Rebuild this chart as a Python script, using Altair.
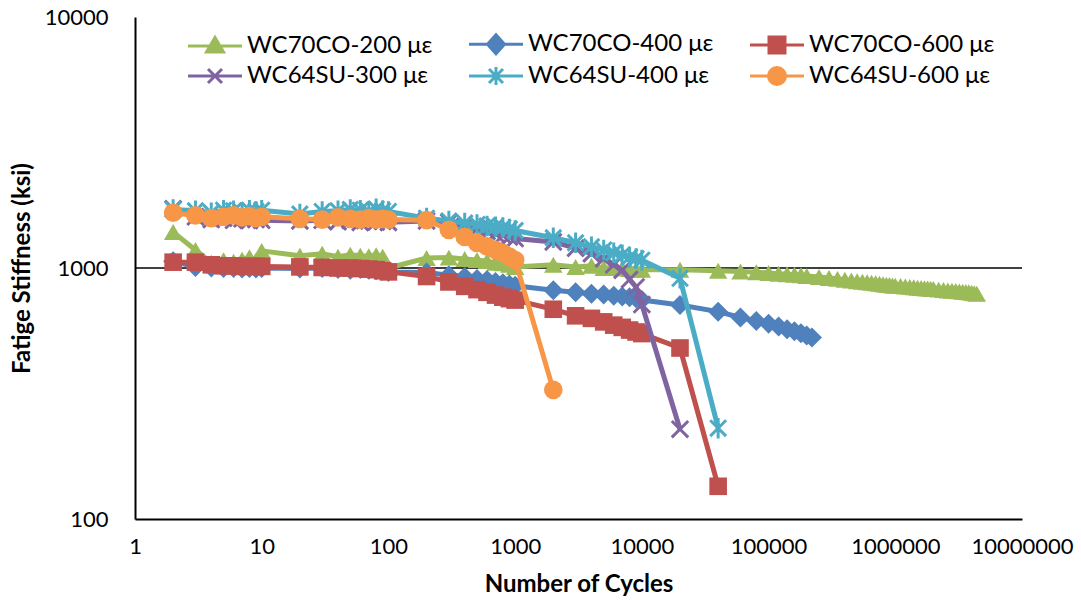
import altair as alt
import pandas as pd

# ---------------- data ----------------
NAMES = ["WC70CO-200 με", "WC70CO-400 με", "WC70CO-600 με",
         "WC64SU-300 με", "WC64SU-400 με", "WC64SU-600 με"]
COLORS = ["#9BBB59", "#4F81BD", "#C0504D", "#8064A2", "#4BACC6", "#F79646"]

X_EARLY = [2, 3, 4, 5, 6, 7, 8, 9, 10, 20, 30, 40, 50, 60, 70, 80, 90, 100,
           200, 300, 400, 500, 600, 700, 800, 900, 1000]
X_MID = [2000, 3000, 4000, 5000, 6000, 7000, 8000, 9000, 10000]

green_x = X_EARLY + X_MID + [
    20000, 40000, 60000, 80000, 100000, 120000, 140000, 160000, 180000, 200000,
    250000, 300000, 350000, 400000, 450000, 500000, 550000, 600000, 650000, 700000,
    750000, 800000, 850000, 900000, 950000, 1000000, 1100000, 1200000, 1300000,
    1400000, 1500000, 1600000, 1700000, 1800000, 1900000, 2000000, 2200000,
    2400000, 2600000, 2800000, 3000000, 3200000, 3400000, 3600000, 3800000,
    4000000, 4200000, 4400000]
green_y = [1390, 1180, 1050, 1075, 1060, 1080, 1105, 1070, 1170,
           1120, 1140, 1110, 1130, 1120, 1115, 1125, 1110, 1000,
           1095, 1100, 1085, 1075, 1065, 1050, 1045, 1030, 1010,
           1030, 1010, 1020, 1000, 1000, 995, 990, 985, 985,
           985, 975, 968, 962, 955, 948, 944, 940, 935, 930,
           920, 912, 905, 898, 892, 886, 882, 878, 874, 870,
           866, 862, 858, 855, 852, 850, 847, 844, 841,
           838, 835, 832, 830, 828, 826, 824, 820,
           817, 814, 812, 810, 807, 805, 802, 800,
           797, 794, 790]

blue_x = X_EARLY + X_MID + [20000, 40000, 60000, 80000, 100000, 120000,
                            140000, 160000, 180000, 200000, 220000]
blue_y = [1065, 1010, 1005, 1000, 1000, 995, 1000, 995, 1000,
          995, 1000, 990, 985, 990, 985, 980, 975, 965,
          960, 935, 920, 905, 895, 880, 870, 860, 850,
          815, 800, 790, 785, 775, 770, 765, 758, 745,
          712, 670, 635, 615, 600, 585, 570, 560, 550, 538, 528]

red_x = X_EARLY + X_MID + [20000, 40000]
red_y = [1055, 1055, 1030, 1020, 1020, 1015, 1015, 1015, 1015,
         1010, 1005, 1000, 1000, 995, 990, 985, 975, 965,
         925, 880, 845, 820, 800, 780, 765, 755, 745,
         685, 645, 630, 610, 592, 580, 566, 556, 548,
         480, 135]

purple_x = X_EARLY + X_MID + [20000]
purple_y = [1720, 1600, 1560, 1580, 1550, 1570, 1545, 1560, 1550,
            1540, 1550, 1530, 1545, 1520, 1540, 1525, 1535, 1520,
            1540, 1520, 1460, 1430, 1400, 1370, 1350, 1330, 1310,
            1270, 1200, 1140, 1090, 1030, 980, 900, 840, 715,
            228]

cyan_x = X_EARLY + X_MID + [20000, 40000]
cyan_y = [1710, 1690, 1660, 1700, 1690, 1660, 1700, 1680, 1700,
          1640, 1680, 1690, 1710, 1700, 1680, 1720, 1690, 1680,
          1580, 1540, 1510, 1490, 1470, 1460, 1450, 1430, 1410,
          1320, 1260, 1215, 1180, 1150, 1128, 1105, 1090, 1075,
          910, 230]

orange_x = X_EARLY + [2000]
orange_y = [1660, 1620, 1580, 1600, 1620, 1590, 1610, 1580, 1600,
            1570, 1560, 1590, 1570, 1560, 1580, 1560, 1570, 1560,
            1550, 1420, 1330, 1260, 1220, 1180, 1150, 1110, 1075,
            327]

SERIES_X = [green_x, blue_x, red_x, purple_x, cyan_x, orange_x]
SERIES_Y = [green_y, blue_y, red_y, purple_y, cyan_y, orange_y]

X_TICKS = [1, 10, 100, 1000, 10000, 100000, 1000000, 10000000]
Y_TICKS = [100, 1000, 10000]

# ---------------- styling ----------------
FONT = "Lato"
X_PATH = "M-1,-1L1,1M-1,1L1,-1"
AST_PATH = "M-1,-1L1,1M-1,1L1,-1M0,-1.3L0,1.3"
MARKERS = [  # shape, filled, size, strokeWidth
    ("triangle-up", True, 340, 0),
    ("diamond", True, 400, 0),
    ("square", True, 310, 0),
    (X_PATH, False, 270, 3),
    (AST_PATH, False, 250, 3),
    ("circle", True, 350, 0),
]
LINE = "M-2.7,0L2.7,0"
LEG_PATHS = [
    LINE + "M0,-0.85L0.85,0.6L-0.85,0.6Z",
    LINE + "M0,-0.95L0.85,0L0,0.95L-0.85,0Z",
    LINE + "M-0.8,-0.8L0.8,-0.8L0.8,0.8L-0.8,0.8Z",
    LINE + "M-0.7,-0.7L0.7,0.7M-0.7,0.7L0.7,-0.7",
    LINE + "M-0.7,-0.7L0.7,0.7M-0.7,0.7L0.7,-0.7M0,-0.9L0,0.9",
    LINE + "M-0.85,0A0.85,0.85,0,1,0,0.85,0A0.85,0.85,0,1,0,-0.85,0Z",
]

W, H = 887, 502

xscale = alt.Scale(type="log", domain=[1, 10000000], nice=False)
yscale = alt.Scale(type="log", domain=[100, 10000], nice=False)

xaxis = alt.Axis(values=X_TICKS, format="d", title="Number of Cycles",
                 grid=False, ticks=False, domainColor="black", domainWidth=2,
                 labelFont=FONT, labelFontSize=22, labelColor="black",
                 labelPadding=17, labelFlush=False, labelOverlap=False,
                 titleFont=FONT, titleFontSize=24, titleFontWeight="bold",
                 titleColor="black", titleX=W / 2, titleY=65,
                 titleBaseline="middle", titleAlign="center")
yaxis = alt.Axis(values=Y_TICKS, format="d", title="Fatige Stiffness (ksi)",
                 grid=False, ticks=False, domainColor="black", domainWidth=2,
                 labelFont=FONT, labelFontSize=22, labelColor="black",
                 labelPadding=27, labelOverlap=False,
                 titleFont=FONT, titleFontSize=24, titleFontWeight="bold",
                 titleColor="black", titleX=-113, titleY=H / 2,
                 titleAngle=270, titleBaseline="middle", titleAlign="center")

layers = []

grid = alt.Chart(pd.DataFrame({"v": [1000]})).mark_rule(
    color="black", strokeWidth=1.6).encode(
    y=alt.Y("v:Q", scale=yscale, axis=yaxis))
layers.append(grid)

for name, xs, ys, color, (shape, filled, size, sw) in zip(
        NAMES, SERIES_X, SERIES_Y, COLORS, MARKERS):
    df = pd.DataFrame({"cycles": xs, "stiffness": ys, "series": name})
    enc = dict(x=alt.X("cycles:Q", scale=xscale, axis=xaxis),
               y=alt.Y("stiffness:Q", scale=yscale, axis=yaxis))
    base = alt.Chart(df)
    layers.append(base.mark_line(color=color, strokeWidth=5).encode(**enc))
    if filled:
        pts = base.mark_point(shape=shape, filled=True, color=color,
                              size=size, opacity=1, strokeWidth=0)
    else:
        pts = base.mark_point(shape=shape, filled=False, color=color,
                              size=size, opacity=1, strokeWidth=sw)
    layers.append(pts.encode(**enc))

legend = alt.Legend(title=None, orient="none", legendX=68, legendY=15,
                    columns=3, direction="horizontal",
                    symbolSize=400, symbolStrokeWidth=3,
                    labelFont=FONT, labelFontSize=24, labelColor="black",
                    labelOffset=20, labelLimit=500,
                    columnPadding=30, rowPadding=1, padding=0)
leg_layer = alt.Chart(pd.DataFrame({"series": NAMES})).transform_filter(
    "false").mark_point(filled=True, opacity=1).encode(
    fill=alt.Fill("series:N", scale=alt.Scale(domain=NAMES, range=COLORS),
                  legend=legend),
    stroke=alt.Stroke("series:N", scale=alt.Scale(domain=NAMES, range=COLORS),
                      legend=legend),
    shape=alt.Shape("series:N", scale=alt.Scale(domain=NAMES, range=LEG_PATHS),
                    legend=legend),
)
layers.append(leg_layer)

chart = alt.layer(*layers).properties(
    width=W, height=H,
    autosize=alt.AutoSizeParams(type="none"),
    padding={"left": 135, "top": 17, "right": 59, "bottom": 81},
    background="white",
).configure_view(stroke=None)

chart.save("out.html", embed_options={"renderer": "svg", "actions": False})
